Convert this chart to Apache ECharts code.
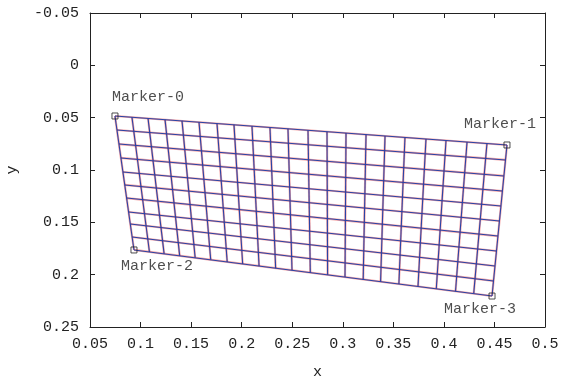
<!DOCTYPE html>
<html>
<head>
<meta charset="utf-8">
<script src="https://cdn.jsdelivr.net/npm/echarts@6/dist/echarts.min.js"></script>
<style>html,body{margin:0;padding:0;background:#fff;}#c{width:569px;height:376px;}</style>
</head>
<body>
<div id="c"></div>
<script>
// Mesh edge points (vertical lines: top -> bottom; horizontal lines: left -> right)
const topX = [0.0747,0.0915,0.1074,0.1242,0.1410,0.1578,0.1756,0.1924,0.2102,0.2280,0.2458,0.2656,0.2844,0.3032,0.3230,0.3418,0.3615,0.3823,0.4021,0.4229,0.4426,0.4624];
const topY = [0.0484,0.0496,0.0507,0.0519,0.0531,0.0543,0.0556,0.0568,0.0581,0.0594,0.0606,0.0620,0.0634,0.0647,0.0661,0.0675,0.0689,0.0704,0.0718,0.0733,0.0747,0.0761];
const bottomX = [0.0935,0.1088,0.1233,0.1387,0.1540,0.1694,0.1857,0.2010,0.2172,0.2336,0.2498,0.2679,0.2850,0.3022,0.3202,0.3374,0.3555,0.3744,0.3925,0.4115,0.4295,0.4476];
const bottomY = [0.1764,0.1783,0.1801,0.1820,0.1839,0.1858,0.1879,0.1898,0.1918,0.1938,0.1958,0.1981,0.2002,0.2023,0.2046,0.2067,0.2089,0.2113,0.2135,0.2159,0.2181,0.2204];
const leftX = [0.0747,0.0767,0.0787,0.0806,0.0826,0.0844,0.0862,0.0882,0.0899,0.0917,0.0935];
const leftY = [0.0484,0.0618,0.0752,0.0885,0.1019,0.1143,0.1268,0.1401,0.1516,0.1640,0.1764];
const rightX = [0.4624,0.4609,0.4594,0.4579,0.4564,0.4550,0.4535,0.4520,0.4505,0.4491,0.4476];
const rightY = [0.0761,0.0904,0.1057,0.1201,0.1344,0.1487,0.1631,0.1774,0.1917,0.2060,0.2204];

const markerNames = ['Marker-0','Marker-1','Marker-2','Marker-3'];
const markerX = [0.0747,0.4624,0.0935,0.4476];
const markerY = [0.0484,0.0761,0.1764,0.2204];

const xTicks = ['0.05','0.1','0.15','0.2','0.25','0.3','0.35','0.4','0.45','0.5'];
const yTicks = ['-0.05','0','0.05','0.1','0.15','0.2','0.25'];

// style only
const labelOffsets = [[33,-19],[-7,-21],[23,16],[-12,13]];
const FONT = 'Liberation Mono, Courier New, monospace';

const segments = [];
for (let i = 0; i < topX.length; i++) segments.push([[topX[i], topY[i]], [bottomX[i], bottomY[i]]]);
for (let j = 0; j < leftX.length; j++) segments.push([[leftX[j], leftY[j]], [rightX[j], rightY[j]]]);

const series = [];
segments.forEach(s => series.push({
  type: 'line', data: s, showSymbol: false, silent: true, animation: false, z: 2,
  lineStyle: { color: '#e83838', width: 2.2, opacity: 0.45 }
}));
segments.forEach(s => series.push({
  type: 'line', data: s, showSymbol: false, silent: true, animation: false, z: 3,
  lineStyle: { color: '#2a44a6', width: 1.1 }
}));
series.push({
  type: 'scatter', z: 5, animation: false, symbol: 'rect', symbolSize: 6,
  itemStyle: { color: 'rgba(255,255,255,0)', borderColor: '#222', borderWidth: 1 },
  data: markerX.map((x, k) => ({
    value: [x, markerY[k]], name: markerNames[k],
    label: { show: true, position: 'inside', offset: labelOffsets[k], formatter: markerNames[k],
      color: '#222', fontFamily: FONT, fontSize: 15 }
  }))
});

const fmtX = v => xTicks[Math.round((v - 0.05) / 0.05)] ?? '';
const fmtY = v => yTicks[Math.round((v + 0.05) / 0.05)] ?? '';

const axisCommon = {
  type: 'value', splitLine: { show: false },
  axisLine: { show: true, onZero: false, lineStyle: { color: '#222', width: 1 } },
  axisTick: { show: true, inside: true, length: 5, lineStyle: { color: '#222' } }
};

const chart = echarts.init(document.getElementById('c'), null, { renderer: 'canvas' });
chart.setOption({
  animation: false,
  grid: { left: 90, right: 24, top: 13, bottom: 49, containLabel: false, outerBoundsMode: 'none' },
  xAxis: [
    Object.assign({}, axisCommon, { min: 0.05, max: 0.5, interval: 0.05, position: 'bottom',
      name: 'x', nameLocation: 'middle', nameGap: 38,
      nameTextStyle: { fontFamily: FONT, fontSize: 15, color: '#222' },
      axisLabel: { formatter: fmtX, fontFamily: FONT, fontSize: 15, color: '#222', margin: 10 } }),
    Object.assign({}, axisCommon, { min: 0.05, max: 0.5, interval: 0.05, position: 'top', axisLabel: { show: false } })
  ],
  yAxis: [
    Object.assign({}, axisCommon, { min: -0.05, max: 0.25, interval: 0.05, inverse: true, position: 'left',
      name: 'y', nameLocation: 'middle', nameGap: 70,
      nameTextStyle: { fontFamily: FONT, fontSize: 15, color: '#222' },
      axisLabel: { formatter: fmtY, fontFamily: FONT, fontSize: 15, color: '#222', margin: 11 } }),
    Object.assign({}, axisCommon, { min: -0.05, max: 0.25, interval: 0.05, inverse: true, position: 'right', axisLabel: { show: false } })
  ],
  series: series
});
</script>
</body>
</html>
